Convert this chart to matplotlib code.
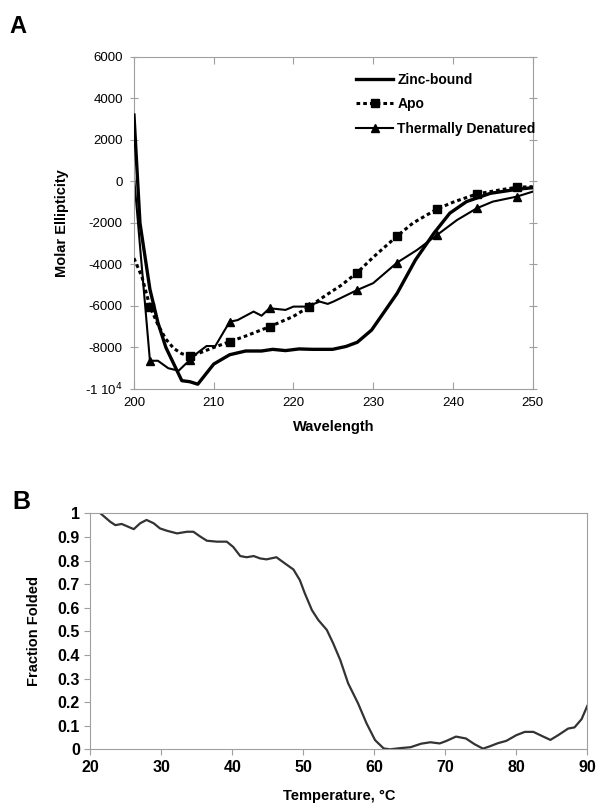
import matplotlib
matplotlib.use("Agg")
import matplotlib.pyplot as plt
from matplotlib.ticker import FixedLocator, FixedFormatter
from matplotlib import font_manager

plt.rcParams["font.family"] = ["Liberation Sans", "DejaVu Sans"]

# Panel A: CD spectra
zinc_x = [200, 200.75, 202, 203, 204, 206, 207, 208, 210, 212, 214, 216, 217.4, 219, 220.7,
          222.4, 224.9, 226.6, 228, 229.8, 233, 235.3, 237.6, 239.6, 241.7, 244.7, 248, 250]
zinc_y = [3200, -2000, -5200, -6800, -8000, -9600, -9650, -9770, -8800, -8350, -8170, -8170,
          -8090, -8150, -8070, -8090, -8090, -7950, -7750, -7160, -5390, -3780, -2500, -1530,
          -970, -570, -380, -300]

apo_x = [200, 201, 202, 203, 204, 205, 206, 207, 208, 210, 212, 214, 217, 220, 222, 224, 226,
         228, 230, 233, 235, 238, 240, 243, 246, 248, 250]
apo_y = [-3700, -4600, -6030, -6900, -7600, -8050, -8300, -8410, -8300, -8000, -7720, -7450,
         -7000, -6500, -6030, -5500, -5000, -4390, -3650, -2630, -2000, -1330, -1000, -600,
         -400, -280, -250]
apo_marks = [2, 7, 10, 12, 14, 17, 19, 21, 23, 25]

den_x = [200, 202, 203, 204.3, 205.6, 207, 208, 209.1, 210.2, 212, 213, 215, 216, 217, 219,
         220, 221.7, 222, 223.3, 224.3, 225, 228, 230, 233, 235.5, 238, 240.5, 243, 245, 248, 250]
den_y = [250, -8640, -8640, -9000, -9120, -8600, -8250, -7930, -7930, -6760, -6680, -6270,
         -6470, -6110, -6190, -6030, -6030, -5980, -5790, -5900, -5790, -5230, -4900, -3910,
         -3300, -2580, -1860, -1290, -970, -730, -490]
den_marks = [1, 5, 9, 13, 17, 21, 23, 25, 27, 29]

a_yticks = [6000, 4000, 2000, 0, -2000, -4000, -6000, -8000, -10000]
a_ylabels = ["6000", "4000", "2000", "0", "-2000", "-4000", "-6000", "-8000", r"-1 10$^4$"]
a_xticks = [200, 210, 220, 230, 240, 250]

# Panel B: thermal melt
temp = [21.4, 22.8, 23.5, 24.4, 25.1, 26.1, 27.0, 27.9, 28.9, 29.8, 30.8, 32.2, 33.6, 34.5,
        35.5, 36.4, 37.8, 39.2, 40.1, 41.1, 42.0, 43.0, 43.9, 44.8, 46.2, 47.2, 48.6, 49.5,
        50.2, 51.2, 52.1, 53.3, 54.2, 55.2, 56.3, 57.7, 58.9, 60.1, 61.3, 62.2, 63.6, 65.1,
        66.6, 67.9, 69.2, 70.1, 71.5, 72.9, 74.1, 75.3, 76.2, 77.4, 78.6, 80.0, 81.2, 82.4,
        83.8, 84.8, 85.9, 87.3, 88.2, 89.2, 90.0]
frac = [1.0, 0.964, 0.95, 0.955, 0.946, 0.933, 0.958, 0.972, 0.958, 0.936, 0.926, 0.915,
        0.922, 0.922, 0.901, 0.884, 0.88, 0.88, 0.858, 0.819, 0.814, 0.819, 0.809, 0.805,
        0.814, 0.792, 0.762, 0.717, 0.661, 0.59, 0.548, 0.506, 0.449, 0.378, 0.28, 0.195,
        0.11, 0.039, 0.004, 0.0, 0.005, 0.009, 0.024, 0.03, 0.025, 0.035, 0.054, 0.046, 0.022,
        0.003, 0.012, 0.026, 0.036, 0.06, 0.074, 0.074, 0.054, 0.04, 0.06, 0.088, 0.093,
        0.128, 0.184]
b_yticks = [0, 0.1, 0.2, 0.3, 0.4, 0.5, 0.6, 0.7, 0.8, 0.9, 1]
b_xticks = [20, 30, 40, 50, 60, 70, 80, 90]

spine_col = "#a0a0a0"

# narrow face for panel B ticks, if it is installed
names = {f.name for f in font_manager.fontManager.ttflist}
narrow = "Liberation Sans Narrow" if "Liberation Sans Narrow" in names else "Liberation Sans"

fig = plt.figure(figsize=(6.0, 8.06), dpi=100)

# ---- panel A
ax = fig.add_axes([0.2233, 0.5174, 0.6645, 0.4119])
ax.plot(zinc_x, zinc_y, color="black", lw=2.4, label="Zinc-bound", zorder=3)
ax.plot(apo_x, apo_y, color="black", lw=2.2, ls=(0, (1.2, 1.0)), marker="s", ms=6,
        markevery=apo_marks, label="Apo", zorder=4)
ax.plot(den_x, den_y, color="black", lw=1.5, marker="^", ms=6, markevery=den_marks,
        label="Thermally Denatured", zorder=2)
ax.set_xlim(200, 250)
ax.set_ylim(-10000, 6000)
ax.yaxis.set_major_locator(FixedLocator(a_yticks))
ax.yaxis.set_major_formatter(FixedFormatter(a_ylabels))
ax.set_xticks(a_xticks)
for s in ax.spines.values():
    s.set_color(spine_col)
ax.tick_params(axis="x", which="both", direction="in", top=True, length=5,
               color=spine_col, labelsize=9.5, pad=6)
ax.tick_params(axis="y", which="both", direction="inout", right=True, length=6,
               color=spine_col, labelsize=9.5, pad=5)
ax.set_xlabel("Wavelength", fontsize=10.5, fontweight="bold", labelpad=8)
ax.set_ylabel("Molar Ellipticity", fontsize=10.5, fontweight="bold", labelpad=12)
ax.legend(loc="upper left", bbox_to_anchor=(0.525, 0.99), frameon=False, handlelength=2.7,
          handletextpad=0.3, labelspacing=0.75, prop={"weight": "bold", "size": 10})

fig.text(0.015, 0.982, "A", fontsize=17, fontweight="bold", va="top")

# ---- panel B
bx = fig.add_axes([0.1508, 0.0703, 0.828, 0.2928])
bx.plot(temp, frac, color="#333333", lw=1.6)
bx.set_xlim(20, 90)
bx.set_ylim(0, 1)
bx.set_xticks(b_xticks)
bx.set_yticks(b_yticks)
bx.set_yticklabels(["%g" % v for v in b_yticks])
for s in bx.spines.values():
    s.set_color(spine_col)
bx.tick_params(direction="out", length=4, color=spine_col, labelsize=11.5)
for lab in bx.get_xticklabels() + bx.get_yticklabels():
    lab.set_fontweight("bold")
    lab.set_family([narrow, "DejaVu Sans"])
bx.set_xlabel("Temperature, \u00b0C", fontsize=10.5, fontweight="bold", labelpad=10)
bx.set_ylabel("Fraction Folded", fontsize=10.5, fontweight="bold", labelpad=12)

fig.text(0.02, 0.392, "B", fontsize=18, fontweight="bold", va="top")

fig.savefig("out.png", dpi=100)
